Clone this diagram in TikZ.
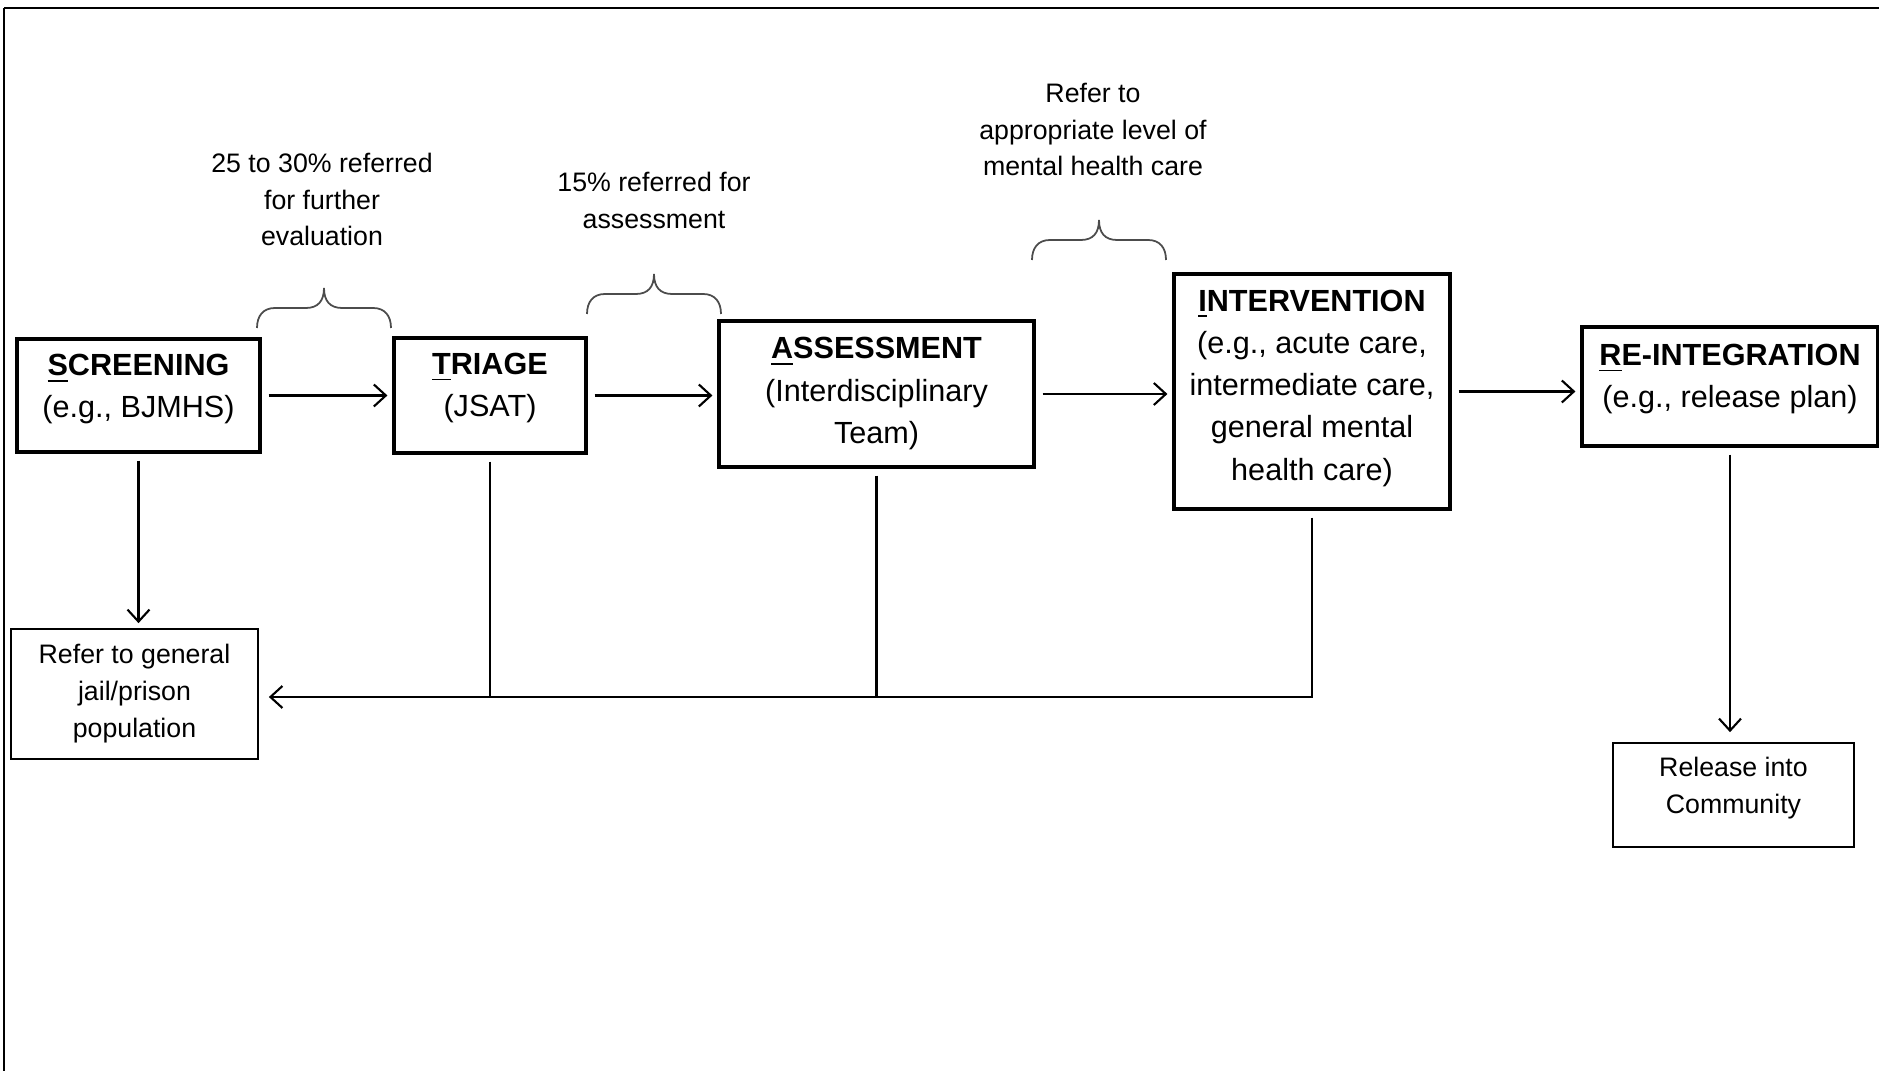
\documentclass[tikz,border=0pt]{standalone}
\usepackage{fontspec}
\setmainfont{Liberation Sans}
\usetikzlibrary{arrows.meta}

\begin{document}
\begin{tikzpicture}
[x=0.01cm,y=-0.01cm,
  stagedecorate/.style={draw,line width=0.9pt,inner sep=0pt,align=center,
    font=\fontsize{8.7}{12}\selectfont},
  enddecorate/.style={draw,line width=0.45pt,inner sep=0pt,align=center,
    font=\fontsize{7.6}{10.5}\selectfont},
  notedecorate/.style={align=center,font=\fontsize{7.6}{10.5}\selectfont},
  bracedecorate/.style={line width=0.5pt,black!70},
  linedecorate/.style={line width=0.6pt,shorten <=0.07cm},
  arrowdecorate/.style={-{Straight Barb[length=1.2mm,width=2.2mm]},
    line width=0.6pt,shorten <=0.07cm,shorten >=0.05cm}]
\useasboundingbox (0,0) rectangle (1879,1071);
%% outer frame
\draw[line width=0.5pt] (4,1071) -- (4,8);
\draw[line width=0.8pt] (4,8) -- (1879,8);
%% stage boxes
\foreach \nodename/\x/\y/\w/\h/\textdp/\caption in {
  screen/138.5/395.5/243/113/5.3pt/{\textbf{\underline{S}CREENING}\\(e.g., BJMHS)},
  triage/490/395.5/192/115/6pt/{\textbf{\underline{T}RIAGE}\\(JSAT)},
  assess/876.5/394/315/146/2pt/{\textbf{\underline{A}SSESSMENT}\\(Interdisciplinary\\Team)},
  intv/1312/391.5/276/235/3.7pt/{\textbf{\underline{I}NTERVENTION}\\(e.g., acute care,\\intermediate care,\\general mental\\health care)},
  reint/1730/386.5/296/119/6pt/{\textbf{\underline{R}E-INTEGRATION}\\(e.g., release plan)}}
{
  \node (\nodename) at (\x,\y) [stagedecorate,minimum width=\w*0.01cm,
    minimum height=\h*0.01cm,text depth=\textdp] {\caption};
}
%% end boxes
\node (refer) at (134.5,694) [enddecorate,minimum width=2.47cm,
  minimum height=1.30cm] {Refer to general\\jail/prison\\population};
\node (release) at (1733.5,795) [enddecorate,minimum width=2.41cm,
  minimum height=1.04cm,text depth=5.6pt] {Release into\\Community};
%% braces and notes
\foreach \xa/\xb/\yb in {257/391/328, 587/721/314, 1032/1166/260}
{
  \draw[bracedecorate] (\xa,\yb) .. controls (\xa,\yb-12) and (\xa+6,\yb-20) .. (\xa+18,\yb-20)
    -- ({(\xa+\xb)/2-18},\yb-20) .. controls ({(\xa+\xb)/2-6},\yb-20) and ({(\xa+\xb)/2},\yb-27) .. ({(\xa+\xb)/2},\yb-40)
    .. controls ({(\xa+\xb)/2},\yb-27) and ({(\xa+\xb)/2+6},\yb-20) .. ({(\xa+\xb)/2+18},\yb-20)
    -- (\xb-18,\yb-20) .. controls (\xb-6,\yb-20) and (\xb,\yb-12) .. (\xb,\yb);
}
\node (note1) at (322,199.5) [notedecorate] {25 to 30\% referred\\for further\\evaluation};
\node (note2) at (654,200) [notedecorate] {15\% referred for\\assessment};
\node (note3) at (1093,129.5) [notedecorate] {Refer to\\appropriate level of\\mental health care};
%% main flow
\foreach \startnode/\endnode in {screen/triage, triage/assess,
  assess/intv, intv/reint}
{
  \draw[arrowdecorate] (\startnode.east) -- (\startnode.east -| \endnode.west);
}
%% way out
\coordinate (feed) at (intv.south |- 0,697);
\draw[arrowdecorate] (screen.south) -- (screen.south |- refer.north);
\draw[arrowdecorate,shorten >=0.1cm] (intv.south) -- (feed) -- (feed -| refer.east);
\draw[linedecorate] (triage.south) -- (triage.south |- feed);
\draw[linedecorate] (assess.south) -- (assess.south |- feed);
\draw[arrowdecorate,shorten >=0.1cm] (reint.south) -- (reint.south |- release.north);
\end{tikzpicture}
\end{document}
